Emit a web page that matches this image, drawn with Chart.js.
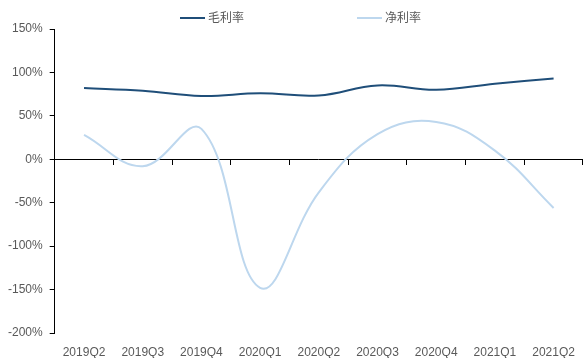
<!DOCTYPE html>
<html>
<head>
<meta charset="utf-8">
<script src="https://cdn.jsdelivr.net/npm/chart.js@4.4.0/dist/chart.umd.min.js"></script>
<style>
  html, body { margin: 0; padding: 0; background: #ffffff; }
  #wrap { position: relative; width: 587px; height: 358px; }
  canvas { display: block; }
  #legend { position: absolute; top: 0; left: 0; width: 587px; height: 30px; font-family: "Noto Sans CJK SC", sans-serif; font-size: 12px; color: #595959; }
  .item { position: absolute; top: 8px; height: 18px; line-height: 18px; white-space: nowrap; }
  .swatch { display: inline-block; width: 25px; height: 2px; vertical-align: middle; margin-right: 3px; position: relative; top: -1px; }
</style>
</head>
<body>
<div id="wrap">
  <canvas id="c" width="587" height="358"></canvas>
  <div id="legend"></div>
</div>
<script>
const categories = ['2019Q2', '2019Q3', '2019Q4', '2020Q1', '2020Q2', '2020Q3', '2020Q4', '2021Q1', '2021Q2'];
const grossMargin = [82, 79, 73, 76, 73.5, 85, 80, 87, 93];
const netMargin = [28, -8, 35, -148, -38, 29, 43, 10, -56];
const yTickValues = [150, 100, 50, 0, -50, -100, -150, -200];
const seriesNames = ['毛利率', '净利率'];
const seriesColors = ['#1F4E79', '#BDD7EE'];

const legendEl = document.getElementById('legend');
const legendLeft = [180, 357];
seriesNames.forEach((name, i) => {
  const it = document.createElement('div');
  it.className = 'item';
  it.style.left = legendLeft[i] + 'px';
  const sw = document.createElement('span');
  sw.className = 'swatch';
  sw.style.background = seriesColors[i];
  it.appendChild(sw);
  it.appendChild(document.createTextNode(name));
  legendEl.appendChild(it);
});

const tickFont = { family: '"Liberation Sans", Arial, sans-serif', size: 12 };

new Chart(document.getElementById('c'), {
  type: 'line',
  data: {
    labels: categories,
    datasets: [
      { label: seriesNames[0], data: grossMargin, borderColor: seriesColors[0], backgroundColor: seriesColors[0], borderWidth: 2, pointRadius: 0, tension: 0.4, fill: false },
      { label: seriesNames[1], data: netMargin, borderColor: seriesColors[1], backgroundColor: seriesColors[1], borderWidth: 2, pointRadius: 0, tension: 0.4, fill: false }
    ]
  },
  options: {
    responsive: false,
    animation: false,
    devicePixelRatio: 1,
    layout: { padding: { top: 29, left: 1, right: 1, bottom: 0 } },
    plugins: { legend: { display: false }, tooltip: { enabled: false } },
    scales: {
      x: {
        type: 'category',
        position: 'bottom',
        offset: true,
        grid: { display: false, drawTicks: false },
        border: { display: false },
        ticks: { color: '#595959', font: tickFont, padding: 12, maxRotation: 0, autoSkip: false },
        afterFit: (axis) => { axis.height = 25; }
      },
      x2: {
        type: 'category',
        position: { y: 0 },
        offset: true,
        grid: { offset: true, drawOnChartArea: false, drawTicks: true, tickLength: 5, color: '#000000', lineWidth: 1 },
        border: { display: true, color: '#000000', width: 1 },
        ticks: { display: true, color: 'rgba(0,0,0,0)', font: tickFont, autoSkip: false, maxRotation: 0 }
      },
      y: {
        min: -200,
        max: 150,
        afterBuildTicks: (axis) => { axis.ticks = yTickValues.map(v => ({ value: v })); },
        grid: { drawOnChartArea: false, drawTicks: true, tickLength: 5, color: '#000000' },
        border: { display: true, color: '#000000', width: 1 },
        ticks: { color: '#595959', font: tickFont, padding: 7, callback: (v) => v + '%' }
      }
    }
  }
});
</script>
</body>
</html>
